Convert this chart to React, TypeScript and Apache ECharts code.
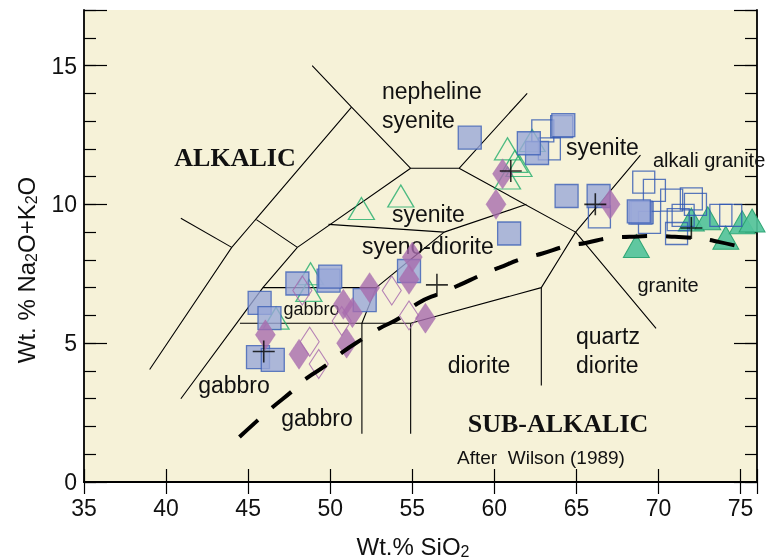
import React, { useEffect, useRef } from "react";
import * as echarts from "echarts";

// ---------------- data ----------------
const X_MIN = 35;
const X_MAX = 76;
const Y_MIN = 0;
const Y_MAX = 17;

const filledSquares: [number, number][] = [
  [58.5, 12.4], [62.6, 11.85], [62.1, 12.2], [64.2, 12.85], [64.4, 10.3],
  [66.35, 10.3], [68.9, 9.7], [68.8, 9.75], [60.9, 8.95], [54.8, 7.6],
  [48.0, 7.15], [49.9, 7.25], [50.0, 7.4], [45.7, 6.45], [46.3, 5.9],
  [45.6, 4.5], [46.5, 4.4], [52.1, 6.55],
];

const openSquares: [number, number][] = [
  [62.95, 12.65], [64.1, 12.8], [63.35, 12.0], [69.1, 10.8], [69.75, 10.5],
  [70.8, 10.15], [72.0, 10.2], [72.25, 10.0], [71.5, 9.6], [71.2, 9.45],
  [71.1, 8.95], [74.4, 9.6], [73.8, 9.6], [66.4, 9.55], [69.0, 9.7], [69.45, 9.35],
];

const filledDiamonds: [number, number][] = [
  [60.5, 11.1], [60.1, 10.0], [67.05, 10.0], [55.0, 8.1], [54.8, 7.3],
  [55.8, 5.9], [46.05, 5.3], [48.1, 4.6], [52.4, 7.0], [50.8, 6.4],
  [51.35, 6.1], [51.0, 5.0],
];

const openDiamonds: [number, number][] = [
  [48.3, 6.9], [48.75, 5.05], [49.3, 4.25], [50.7, 5.8], [53.75, 6.9], [54.8, 6.0],
];

const openTriangles: [number, number][] = [
  [62.3, 12.3], [60.8, 12.0], [61.25, 11.55], [61.5, 11.4], [60.8, 10.95],
  [54.3, 10.3], [51.9, 9.85], [48.8, 7.5], [48.7, 6.9], [46.7, 5.9],
];

const filledTriangles: [number, number][] = [
  [68.65, 8.5], [72.0, 9.45], [73.0, 9.5], [74.1, 8.8], [75.1, 9.35], [75.7, 9.42],
];

const meanCrosses: [number, number][] = [
  [61.0, 11.2], [66.15, 10.0], [72.0, 9.15], [45.95, 4.7], [56.5, 7.1],
];

// alkaline / sub-alkaline divide (Irvine & Baragar), read point by point
const alkalineDivide: [number, number][] = [
  [44.47, 1.62], [45.58, 2.22], [46.5, 2.7], [47.68, 3.27], [48.53, 3.72],
  [49.84, 4.24], [50.75, 4.68], [52.01, 5.17], [52.99, 5.53], [54.31, 5.94],
  [55.32, 6.43], [56.74, 6.81], [57.85, 7.09], [59.17, 7.45], [60.29, 7.72],
  [61.75, 8.05], [62.92, 8.23], [64.34, 8.49], [65.56, 8.61], [67.08, 8.79],
  [68.24, 8.83], [69.78, 8.86], [70.99, 8.83], [72.45, 8.77], [73.66, 8.65],
  [75.19, 8.44],
];

// field boundaries of the plutonic TAS diagram (after Wilson 1989)
const fieldBoundaries: [number, number][][] = [
  [[48.9, 15.0], [51.3, 13.5], [54.9, 11.3], [57.85, 11.3], [62.0, 14.0]],
  [[51.3, 13.5], [44.0, 8.45], [39.0, 4.05]],
  [[40.9, 9.5], [44.0, 8.45]],
  [[45.5, 9.45], [48.0, 8.45], [54.9, 11.3]],
  [[48.0, 8.45], [45.9, 7.0], [40.9, 3.0]],
  [[45.9, 7.0], [52.8, 7.0]],
  [[44.5, 5.72], [54.9, 5.72]],
  [[51.93, 5.72], [51.93, 1.74]],
  [[54.9, 5.72], [54.9, 1.74]],
  [[51.93, 5.72], [52.8, 7.0], [56.94, 9.0]],
  [[49.9, 9.28], [56.94, 9.0], [61.95, 10.0]],
  [[57.85, 11.3], [64.95, 9.0], [69.85, 5.53]],
  [[54.9, 5.72], [62.86, 7.0], [64.95, 9.0], [68.9, 11.77]],
  [[62.86, 7.0], [62.86, 3.48]],
];

const xTickStep = 5;
const yTickStep = 5;

// ---------------- component ----------------
const SANS = "'Liberation Sans', Arial, Helvetica, sans-serif";
const SERIF = "'Liberation Serif', 'Times New Roman', serif";

export default function App() {
  const ref = useRef<HTMLDivElement>(null);

  useEffect(() => {
    if (!ref.current) return;
    const chart = echarts.init(ref.current, null, { renderer: "svg" });

    const axisLineStyle = { color: "#000", width: 1.8 };
    const tickStyle = { color: "#000", width: 1.2 };
    const fmt = (step: number) => (v: number) =>
      Math.abs(v % step) < 1e-9 ? String(v) : "";

    const boundarySeries = fieldBoundaries.map((pts) => ({
      type: "line",
      data: pts,
      symbol: "none",
      silent: true,
      z: 2,
      lineStyle: { color: "#000", width: 1.1 },
    }));

    const label = (
      text: string,
      x: number,
      y: number,
      size: number,
      align: string = "left",
      font: string = SANS,
      weight: string = "normal"
    ) => ({
      type: "text",
      x,
      y,
      z: 1,
      silent: true,
      style: {
        text,
        fontSize: size,
        fontFamily: font,
        fontWeight: weight,
        fill: "#111",
        align,
        verticalAlign: "middle",
      },
    });

    const option: any = {
      animation: false,
      grid: {
        left: 84,
        right: 16,
        top: 10,
        bottom: 78,
        show: true,
        backgroundColor: "#f6f2d8",
        borderWidth: 0,
      },
      xAxis: [
        {
          type: "value",
          position: "bottom",
          min: X_MIN,
          max: X_MAX,
          interval: xTickStep,
          axisLine: { show: true, lineStyle: axisLineStyle },
          axisTick: { show: true, inside: true, length: 13, lineStyle: tickStyle },
          axisLabel: {
            show: true,
            color: "#111",
            fontSize: 23,
            fontFamily: SANS,
            margin: 14,
            formatter: fmt(xTickStep),
          },
          splitLine: { show: false },
        },
        {
          type: "value",
          position: "top",
          min: X_MIN,
          max: X_MAX,
          interval: xTickStep,
          axisLine: { show: true, lineStyle: axisLineStyle },
          axisTick: { show: true, inside: true, length: 12, lineStyle: tickStyle },
          axisLabel: { show: false },
          splitLine: { show: false },
        },
      ],
      yAxis: [
        {
          type: "value",
          position: "left",
          min: Y_MIN,
          max: Y_MAX,
          interval: yTickStep,
          axisLine: { show: true, lineStyle: axisLineStyle },
          axisTick: { show: true, inside: true, length: 23, lineStyle: tickStyle },
          axisLabel: {
            show: true,
            color: "#111",
            fontSize: 23,
            fontFamily: SANS,
            margin: 7,
            formatter: fmt(yTickStep),
          },
          splitLine: { show: false },
        },
        {
          type: "value",
          position: "left",
          min: Y_MIN,
          max: Y_MAX,
          interval: 1,
          axisLine: { show: false },
          axisTick: { show: true, inside: true, length: 12, lineStyle: tickStyle },
          axisLabel: { show: false },
          splitLine: { show: false },
        },
        {
          type: "value",
          position: "right",
          min: Y_MIN,
          max: Y_MAX,
          interval: yTickStep,
          axisLine: { show: true, lineStyle: axisLineStyle },
          axisTick: { show: true, inside: true, length: 23, lineStyle: tickStyle },
          axisLabel: { show: false },
          splitLine: { show: false },
        },
        {
          type: "value",
          position: "right",
          min: Y_MIN,
          max: Y_MAX,
          interval: 1,
          axisLine: { show: false },
          axisTick: { show: true, inside: true, length: 12, lineStyle: tickStyle },
          axisLabel: { show: false },
          splitLine: { show: false },
        },
      ],
      graphic: [
        label("nepheline", 382, 91, 23),
        label("syenite", 382, 119.5, 23),
        label("ALKALIC", 235, 157.5, 26, "center", SERIF, "bold"),
        label("syenite", 566, 147, 23),
        label("alkali granite", 653, 159.5, 20),
        label("syenite", 392, 213.5, 23),
        label("syeno-diorite", 362, 245.5, 23),
        label("gabbro", 311.5, 309, 18, "center"),
        label("gabbro", 234, 384.5, 23, "center"),
        label("gabbro", 317, 418, 23, "center"),
        label("diorite", 479, 365, 23, "center"),
        label("quartz", 576, 336, 23),
        label("diorite", 576, 365, 23),
        label("granite", 668, 284.5, 20, "center"),
        label("SUB-ALKALIC", 558, 423, 26, "center", SERIF, "bold"),
        label("After  Wilson (1989)", 541, 457.5, 19, "center"),
        {
          type: "text",
          x: 413,
          y: 546,
          z: 1,
          silent: true,
          style: {
            text: "{a|Wt.% SiO}{s|2}",
            align: "center",
            verticalAlign: "middle",
            rich: {
              a: { fontSize: 24, fontFamily: SANS, fill: "#111" },
              s: { fontSize: 16, fontFamily: SANS, fill: "#111", padding: [10, 0, 0, 0] },
            },
          },
        },
        {
          type: "text",
          x: 26,
          y: 270,
          rotation: Math.PI / 2,
          z: 1,
          silent: true,
          style: {
            text: "{a|Wt. % Na}{s|2}{a|O+K}{s|2}{a|O}",
            align: "center",
            verticalAlign: "middle",
            rich: {
              a: { fontSize: 24, fontFamily: SANS, fill: "#111" },
              s: { fontSize: 16, fontFamily: SANS, fill: "#111", padding: [10, 0, 0, 0] },
            },
          },
        },
      ],
      series: [
        ...boundarySeries,
        {
          name: "open triangles",
          type: "scatter",
          data: openTriangles,
          symbol: "triangle",
          symbolSize: [26, 22],
          z: 3,
          itemStyle: { color: "rgba(0,0,0,0)", borderColor: "#22ad6c", borderWidth: 1.3 },
        },
        {
          name: "filled triangles",
          type: "scatter",
          data: filledTriangles,
          symbol: "triangle",
          symbolSize: [26, 23],
          z: 4,
          itemStyle: { color: "#52c39b", borderColor: "#27a26f", borderWidth: 1, opacity: 0.92 },
        },
        {
          name: "open squares",
          type: "scatter",
          data: openSquares,
          symbol: "rect",
          symbolSize: 22,
          z: 5,
          itemStyle: { color: "rgba(0,0,0,0)", borderColor: "#2f56b3", borderWidth: 1.3 },
        },
        {
          name: "filled squares",
          type: "scatter",
          data: filledSquares,
          symbol: "rect",
          symbolSize: 23,
          z: 6,
          itemStyle: { color: "#9aa8d8", borderColor: "#3d60b6", borderWidth: 1.3 },
        },
        {
          name: "open diamonds",
          type: "scatter",
          data: openDiamonds,
          symbol: "diamond",
          symbolSize: [19, 29],
          z: 7,
          itemStyle: { color: "rgba(0,0,0,0)", borderColor: "#a566ad", borderWidth: 1.1 },
        },
        {
          name: "filled diamonds",
          type: "scatter",
          data: filledDiamonds,
          symbol: "diamond",
          symbolSize: [20, 30],
          z: 8,
          itemStyle: { color: "#a86cae", borderColor: "#a86cae", borderWidth: 0.5 },
        },
        {
          name: "means",
          type: "scatter",
          data: meanCrosses,
          symbol: "path://M0,11L22,11M11,0L11,22",
          symbolSize: 22,
          z: 9,
          itemStyle: { color: "rgba(0,0,0,0)", borderColor: "#000", borderWidth: 1.6 },
        },
        {
          name: "alkaline divide",
          type: "line",
          data: alkalineDivide,
          symbol: "none",
          smooth: true,
          silent: true,
          z: 10,
          lineStyle: { color: "#000", width: 4, type: [25, 19], cap: "butt" },
        },
      ],
    };

    chart.setOption(option);
    return () => chart.dispose();
  }, []);

  return (
    <div
      ref={ref}
      style={{ position: "fixed", left: 0, top: 0, width: 773, height: 560 }}
    />
  );
}
